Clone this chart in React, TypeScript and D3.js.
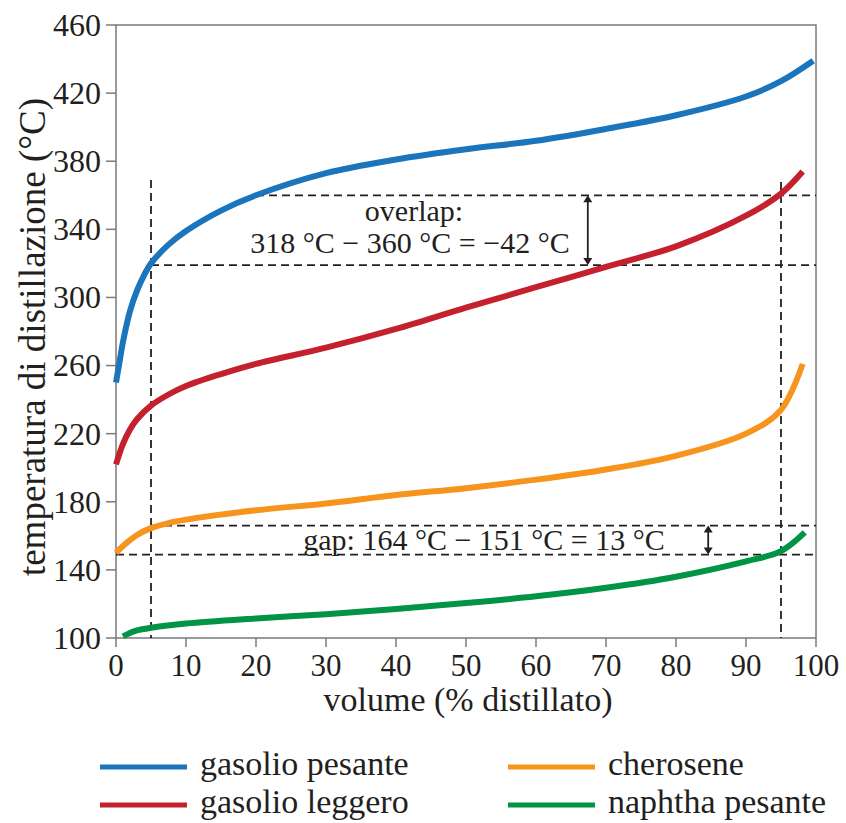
import React from "react";
import * as d3 from "d3";

const W = 846;
const H = 823;

const xTicks = [0, 10, 20, 30, 40, 50, 60, 70, 80, 90, 100];
const yTicks = [100, 140, 180, 220, 260, 300, 340, 380, 420, 460];

const gasolioPesanteX = [0, 0.5, 1, 2, 3, 4, 5, 7.5, 10, 15, 20, 30, 40, 50, 60, 70, 80, 90, 95, 99.6];
const gasolioPesanteY = [250, 262, 274, 292, 304, 313, 320, 331, 339, 351, 360, 373, 381, 387, 392, 399, 407, 418, 427, 439];

const gasolioLeggeroX = [0, 1, 2, 3, 5, 7.5, 10, 15, 20, 30, 40, 50, 60, 70, 80, 90, 95, 98.1];
const gasolioLeggeroY = [202, 214, 222.5, 228.5, 236.5, 243, 248, 255, 261, 270.5, 281.5, 294, 306, 318, 330, 348, 361, 374];

const cheroseneX = [0, 1, 2, 3, 5, 7.5, 10, 20, 30, 40, 50, 60, 70, 80, 90, 95, 98.1];
const cheroseneY = [150, 154, 157.5, 160.5, 164.5, 167.5, 169.5, 175, 179, 184, 188, 193, 199, 207, 220, 234, 261];

const naphthaX = [1, 2, 3, 5, 10, 20, 30, 40, 50, 60, 70, 80, 90, 95, 98.4];
const naphthaY = [101, 103, 104.5, 106, 108.5, 111.5, 114, 117, 120.5, 124.5, 129.5, 136, 145, 151, 162];

const seriesNames = ["gasolio pesante", "gasolio leggero", "cherosene", "naphtha pesante"];
const seriesColors = ["#1a75bc", "#c4202e", "#f7941d", "#009444"];

// reference lines (values)
const vCut = [5, 95];
const overlapTop = 360;
const overlapBottom = 319;
const gapTop = 166;
const gapBottom = 149;

const INK = "#231f20";
const FONT = "'Liberation Serif', 'Times New Roman', serif";

export default function App() {
  const x = d3.scaleLinear().domain([0, 100]).range([116, 816]);
  const y = d3.scaleLinear().domain([100, 460]).range([638, 25]);

  const line = d3
    .line<[number, number]>()
    .x((d) => x(d[0]))
    .y((d) => y(d[1]))
    .curve(d3.curveCatmullRom.alpha(0.5));

  const series = [
    d3.zip(gasolioPesanteX, gasolioPesanteY),
    d3.zip(gasolioLeggeroX, gasolioLeggeroY),
    d3.zip(cheroseneX, cheroseneY),
    d3.zip(naphthaX, naphthaY),
  ] as [number, number][][];

  const dash = "8 5";
  const arrow = (xv: number, y1: number, y2: number, key: string) => {
    const px = x(xv);
    const a = y(y1);
    const b = y(y2);
    const h = 7;
    const w = 4.5;
    return (
      <g key={key}>
        <line x1={px} x2={px} y1={a + 4} y2={b - 4} stroke={INK} strokeWidth={1.8} />
        <path d={`M${px},${a} L${px - w},${a + h} L${px + w},${a + h} Z`} fill={INK} />
        <path d={`M${px},${b} L${px - w},${b - h} L${px + w},${b - h} Z`} fill={INK} />
      </g>
    );
  };

  return (
    <svg width={W} height={H} style={{ position: "absolute", left: 0, top: 0, background: "#fff" }} fontFamily={FONT}>
      {/* frame */}
      <rect x={x(0)} y={y(460)} width={x(100) - x(0)} height={y(100) - y(460)} fill="none" stroke="#7a7a7a" strokeWidth={1.5} />
      {/* y ticks */}
      {yTicks.map((t) => (
        <g key={"y" + t}>
          <line x1={x(0) - 10} x2={x(0)} y1={y(t)} y2={y(t)} stroke="#7a7a7a" strokeWidth={1.5} />
          <text x={x(0) - 15} y={y(t)} dy="0.34em" textAnchor="end" fontSize={32} fill={INK}>
            {t}
          </text>
        </g>
      ))}
      {/* x ticks */}
      {xTicks.map((t) => (
        <g key={"x" + t}>
          <line x1={x(t)} x2={x(t)} y1={y(100)} y2={y(100) + 9} stroke="#7a7a7a" strokeWidth={1.5} />
          <text x={x(t)} y={676} textAnchor="middle" fontSize={31} fill={INK}>
            {t}
          </text>
        </g>
      ))}
      {/* axis titles */}
      <text x={(x(0) + x(100)) / 2 + 2} y={711} textAnchor="middle" fontSize={34} fill={INK}>
        volume (% distillato)
      </text>
      <text transform={`translate(45,337) rotate(-90)`} textAnchor="middle" fontSize={37} fill={INK}>
        temperatura di distillazione (°C)
      </text>

      {/* dashed reference lines */}
      <g stroke={INK} strokeWidth={1.8} strokeDasharray={dash} fill="none">
        <line x1={x(vCut[0])} x2={x(vCut[0])} y1={180} y2={y(100)} />
        <line x1={x(vCut[1])} x2={x(vCut[1])} y1={182} y2={y(100)} />
        <line x1={x(20)} x2={x(100)} y1={y(overlapTop)} y2={y(overlapTop)} />
        <line x1={x(vCut[0])} x2={x(100)} y1={y(overlapBottom)} y2={y(overlapBottom)} />
        <line x1={x(vCut[0])} x2={x(100)} y1={y(gapTop)} y2={y(gapTop)} />
        <line x1={x(0)} x2={x(100)} y1={y(gapBottom)} y2={y(gapBottom)} />
      </g>

      {/* curves */}
      {series.map((s, i) => (
        <path key={seriesNames[i]} d={line(s) || ""} fill="none" stroke={seriesColors[i]} strokeWidth={6} />
      ))}

      {/* arrows */}
      {arrow(67.4, overlapTop, overlapBottom, "a1")}
      {arrow(84.6, gapTop, gapBottom, "a2")}

      {/* annotations */}
      <text x={414} y={221} textAnchor="middle" fontSize={30} fill={INK}>
        overlap:
      </text>
      <text x={410} y={253} textAnchor="middle" fontSize={30} fill={INK}>
        318 °C − 360 °C = −42 °C
      </text>
      <text x={484} y={550} textAnchor="middle" fontSize={30} fill={INK}>
        gap: 164 °C − 151 °C = 13 °C
      </text>

      {/* legend */}
      {seriesNames.map((n, i) => {
        const col = i < 2 ? 0 : 1;
        const row = i % 2;
        const lx = col === 0 ? 100 : 508;
        const ly = row === 0 ? 767 : 805;
        return (
          <g key={"lg" + n}>
            <line x1={lx} x2={lx + 87} y1={ly} y2={ly} stroke={seriesColors[i]} strokeWidth={5} />
            <text x={lx + 100} y={ly + 8} fontSize={34} fill={INK}>
              {n}
            </text>
          </g>
        );
      })}
    </svg>
  );
}
